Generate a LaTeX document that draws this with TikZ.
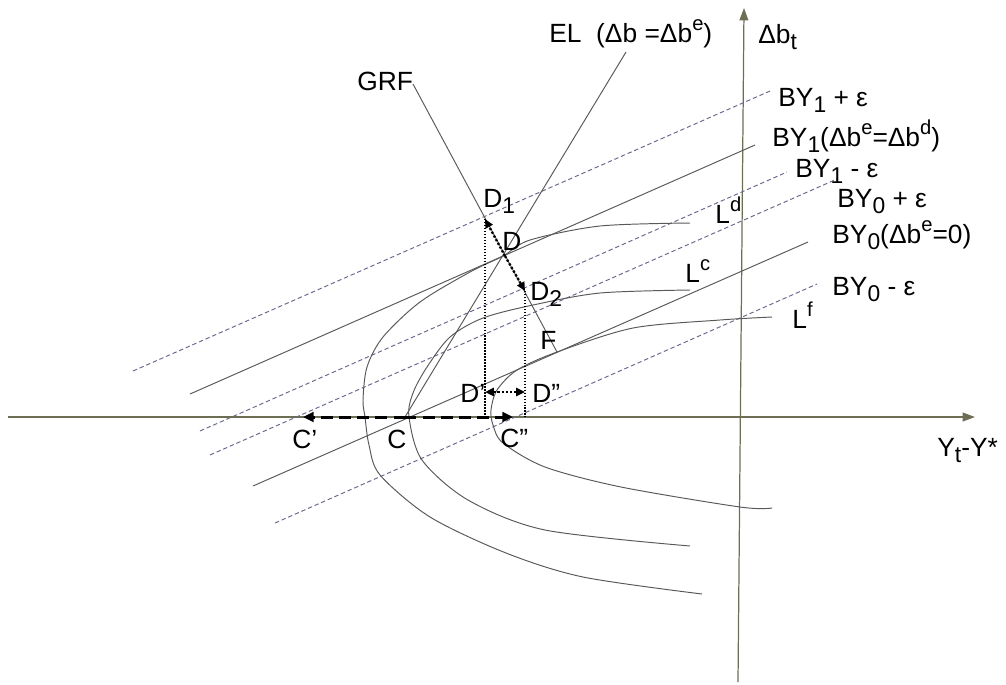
\documentclass[tikz,border=0pt]{standalone}
\usepackage{fontspec}
\setmainfont{Liberation Sans}
\usepackage{xcolor}
\usepackage{tikz}
\usetikzlibrary{
    arrows.meta,
    positioning,
    calc
}
\definecolor{edgegray}{RGB}{105,105,140}
\definecolor{axisgray}{RGB}{110,110,85}
\newcommand{\lo}[1]{\raisebox{-0.5ex}{\fontsize{13}{13}\selectfont #1}}
\newcommand{\hi}[1]{\raisebox{0.8ex}{\fontsize{11.5}{11.5}\selectfont #1}}
\tikzset{
    axis/.style={
        draw=axisgray,
        line width=0.7pt,
        -{Triangle[length=7pt,width=5pt]}
    },
    curve/.style={
        draw=black!65,
        line width=0.55pt
    },
    bandline/.style={
        draw=black!65,
        line width=0.55pt
    },
    bandedge/.style={
        draw=edgegray,
        line width=0.55pt,
        dash pattern=on 2.5pt off 1.6pt
    },
    guide/.style={
        draw=black,
        line width=0.6pt,
        dash pattern=on 0.8pt off 0.9pt
    },
    movec/.style={
        draw=black,
        line width=1.7pt,
        dash pattern=on 6.5pt off 3.8pt,
        -{Triangle[length=6pt,width=5.5pt]}
    },
    moved/.style={
        draw=black,
        line width=1.3pt,
        dash pattern=on 1.3pt off 1.1pt,
        -{Triangle[length=5pt,width=4.5pt]}
    },
    lbl/.style={
        anchor=base west,
        inner sep=0pt,
        font=\fontsize{15}{17}\selectfont
    }
}

\begin{document}
\begin{tikzpicture}[x=0.02cm, y=-0.02cm]
\useasboundingbox (0,0) rectangle (1006,684);

% points
\coordinate (C) at (405,417);
\coordinate (Cl) at (303,417);
\coordinate (Cr) at (513,417);
\coordinate (D) at (505,256);
\coordinate (D1) at (485,219);
\coordinate (D2) at (525,291);
\coordinate (F) at (557,352);
\coordinate (Dp) at (485,392);
\coordinate (Dpp) at (525,392);
\coordinate (grftop) at (413,84);
\coordinate (eltop) at (626,52);

% axes
\draw[axis] (8,417) -- (975,417);
\draw[axis] (738,682) -- (744,8);

% budget lines
\draw[bandedge] (133,371) -- (770,91);
\draw[bandline] (190,394) -- (755,145);
\draw[bandedge] (200,431) -- (787,172);
\draw[bandedge] (210,455) -- (837,179);
\draw[bandline] (253,486) -- (808,242);
\draw[bandedge] (275,523) -- (817,284);

% loss curves
\draw[curve] plot[smooth] coordinates {(690,223) (600,226) (530,240) (503,256)
    (470,272) (420,302) (383,337) (367,367) (363,400) (365,417) (369,445)
    (380,475) (430,517) (506,553) (583,577) (702,594)};
\draw[curve] plot[smooth] coordinates {(690,290) (600,293) (533,305) (483,318)
    (450,337) (427,367) (413,393) (409,417) (422,460) (468,500) (545,530)
    (690,546)};
\draw[curve] plot[smooth] coordinates {(772,317) (720,320) (633,328) (557,352)
    (517,370) (497,390) (491,410) (493,425) (503,443) (545,467) (621,487)
    (740,507) (772,508)};

% EL and GRF
\draw[curve] (eltop) -- (C);
\draw[curve] (grftop) -- (F);

% projections
\draw[guide] (D1) -- (D1 |- C);
\draw[guide] (D2) -- (D2 |- C);

% moves
\draw[movec] (C) -- (Cl);
\draw[movec] (C) -- (Cr);
\draw[moved] (D) -- (D1);
\draw[moved] (D) -- (D2);
\draw[moved, {Triangle[length=5pt,width=4.5pt]}-{Triangle[length=5pt,width=4.5pt]}] (Dp) -- (Dpp);

% labels
\node[lbl] (ellbl) at (549,42) {EL\ \ (Δb =Δb\hi{e})};
\node[lbl] (grflbl) at (357,90) {GRF};
\node[lbl] (ylbl) at (758,43) {Δb\lo{t}};
\node[lbl] (xlbl) at (937,456) {Y\lo{t}-Y*};
\node[lbl] (by1up) at (778,106) {BY\lo{1} + ε};
\node[lbl] (by1) at (772,146) {BY\lo{1}(Δb\hi{e}=Δb\hi{d})};
\node[lbl] (by1dn) at (795,177) {BY\lo{1} - ε};
\node[lbl] (by0up) at (837,207) {BY\lo{0} + ε};
\node[lbl] (by0) at (832,243) {BY\lo{0}(Δb\hi{e}=0)};
\node[lbl] (by0dn) at (832,295) {BY\lo{0} - ε};
\node[lbl] (ldlbl) at (715,223) {L\hi{d}};
\node[lbl] (lclbl) at (685,282) {L\hi{c}};
\node[lbl] (lflbl) at (792,328) {L\hi{f}};
\node[lbl] (d1lbl) at (483,207) {D\lo{1}};
\node[lbl] (dlbl) at (502,250) {D};
\node[lbl] (d2lbl) at (530,300) {D\lo{2}};
\node[lbl] (flbl) at (540,349) {F};
\node[lbl] (dplbl) at (460,402) {D’};
\node[lbl] (dpplbl) at (532,402) {D”};
\node[lbl] (cllbl) at (292,448) {C’};
\node[lbl] (clbl) at (387,448) {C};
\node[lbl] (crlbl) at (500,447) {C”};
\end{tikzpicture}
\end{document}
